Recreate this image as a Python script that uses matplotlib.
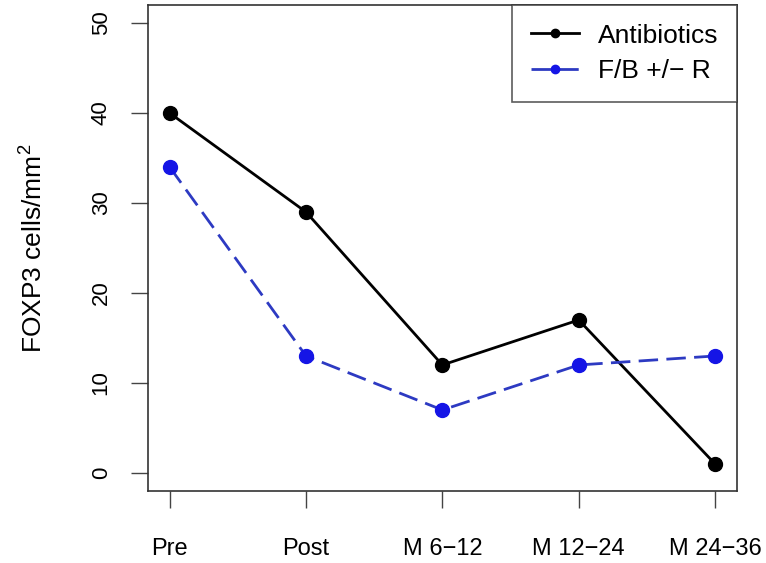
import matplotlib
matplotlib.use("Agg")
import matplotlib.pyplot as plt

plt.rcParams['font.family'] = ['Liberation Sans', 'DejaVu Sans']
plt.rcParams['mathtext.fontset'] = 'custom'
plt.rcParams['mathtext.rm'] = 'Liberation Sans'

timepoints = ["Pre", "Post", "M 6\u221212", "M 12\u221224", "M 24\u221236"]
antibiotics = [40, 29, 12, 17, 1]
fb_r = [34, 13, 7, 12, 13]
y_ticks = [0, 10, 20, 30, 40, 50]


def main():
    fig = plt.figure(figsize=(7.66, 5.63), dpi=100)
    ax = fig.add_axes([0.193, 0.128, 0.769, 0.863])

    x = list(range(1, len(timepoints) + 1))
    ax.plot(x, antibiotics, color='black', lw=2.0, marker='o', ms=10,
            label='Antibiotics')
    ax.plot(x, fb_r, color='#2d3ac2', lw=2.0, ls=(0, (7, 3)), marker='o',
            ms=10, mfc='#1515e6', mec='#1515e6', label='F/B +/\u2212 R')

    ax.set_xlim(0.84, 5.16)
    ax.set_ylim(-2, 52)
    ax.set_xticks(x)
    ax.set_xticklabels(timepoints, fontsize=17)
    ax.set_yticks(y_ticks)
    ax.set_yticklabels([str(v) for v in y_ticks], fontsize=16, rotation=90,
                       va='center')
    ax.tick_params(length=12, width=1, color='#444444', pad=14)
    ax.tick_params(axis='x', pad=22)
    for s in ax.spines.values():
        s.set_color('#333333')
        s.set_linewidth(1.2)

    ax.set_ylabel('FOXP3 cells/mm$^\\mathregular{2}$', fontsize=19, labelpad=32)

    leg = ax.legend(loc='upper right', fontsize=19, frameon=True, fancybox=False,
                    handlelength=1.85, handletextpad=0.7,
                    borderpad=0.7, labelspacing=0.45, markerscale=0.6,
                    borderaxespad=0)
    leg.get_frame().set_edgecolor('#333333')
    leg.get_frame().set_linewidth(1.2)

    fig.savefig('out.png', dpi=100)


if __name__ == "__main__":
    main()
